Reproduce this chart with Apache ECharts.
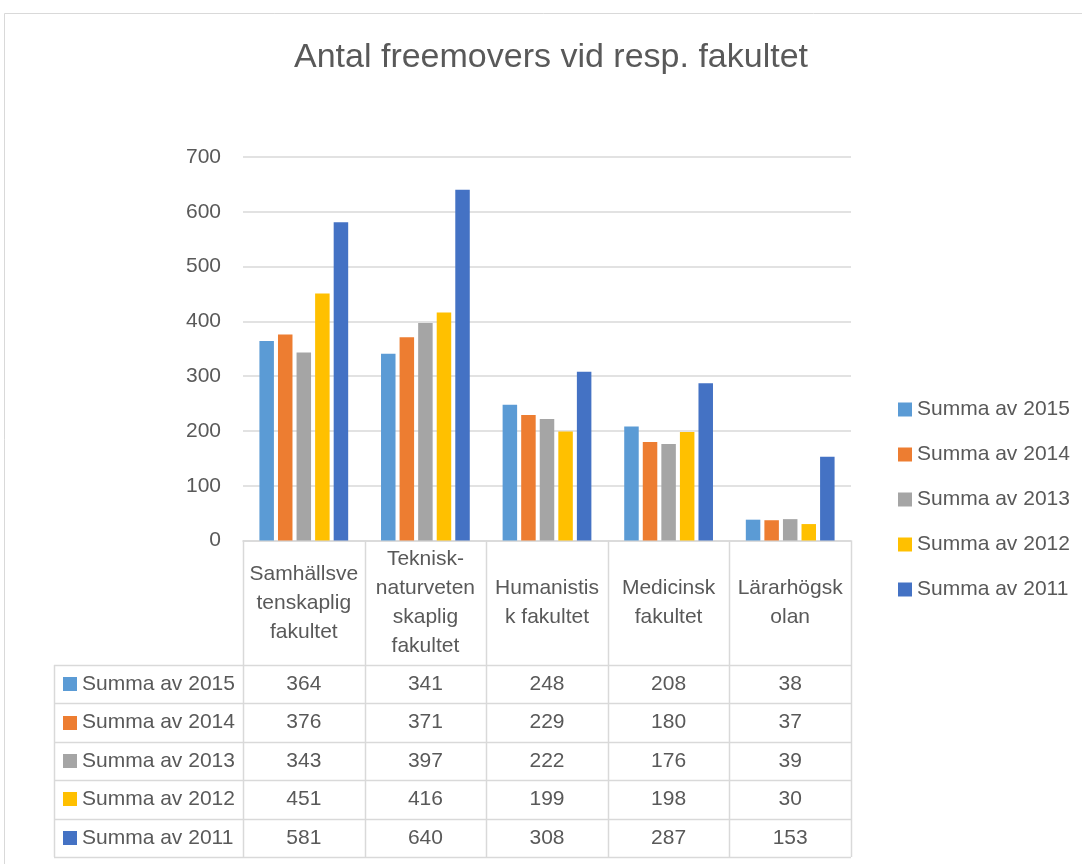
<!DOCTYPE html>
<html>
<head>
<meta charset="utf-8">
<script src="https://cdn.jsdelivr.net/npm/echarts@6/dist/echarts.min.js"></script>
<style>
  html, body { margin: 0; padding: 0; background: #fff; }
  #chart { width: 1082px; height: 864px; }
</style>
</head>
<body>
<div id="chart"></div>
<script>
// data
const categories = ['Samhällsvetenskaplig fakultet', 'Teknisk-naturvetenskaplig fakultet', 'Humanistisk fakultet', 'Medicinsk fakultet', 'Lärarhögskolan'];
const seriesNames = ['Summa av 2015', 'Summa av 2014', 'Summa av 2013', 'Summa av 2012', 'Summa av 2011'];
const v2015 = [364, 341, 248, 208, 38];
const v2014 = [376, 371, 229, 180, 37];
const v2013 = [343, 397, 222, 176, 39];
const v2012 = [451, 416, 199, 198, 30];
const v2011 = [581, 640, 308, 287, 153];
const yMin = 0, yMax = 700, yStep = 100;

const values = [v2015, v2014, v2013, v2012, v2011];
const colors = ['#5B9BD5', '#ED7D31', '#A5A5A5', '#FFC000', '#4472C4'];
const FONT = '"Liberation Sans", Arial, sans-serif';
const TXT = '#595959';
const LINE = '#d9d9d9';

// layout (pixels)
const gLeft = 243, gRight = 851, gTop = 157, gBottom = 540.5;
const tLeft = 54, tHead = 665, tEnd = 857;
const colW = (gRight - gLeft) / categories.length;
const rowH = (tEnd - tHead) / seriesNames.length;

// excel-like wrapping: at most 10 chars per line, long words cut
function wrap(s, max) {
  const tokens = s.replace(/-/g, '- ').split(' ').filter(t => t);
  const lines = [];
  let cur = '';
  tokens.forEach(tok => {
    const sep = (cur && !cur.endsWith('-')) ? ' ' : '';
    if (cur && (cur + sep + tok).length <= max) { cur = cur + sep + tok; return; }
    if (cur) lines.push(cur);
    cur = tok;
    while (cur.length > max) { lines.push(cur.slice(0, max)); cur = cur.slice(max); }
  });
  if (cur) lines.push(cur);
  return lines.join('\n');
}

const graphic = [];
// outer chart border
graphic.push({ type: 'rect', shape: { x: 4.5, y: 13.5, width: 1200, height: 1000 }, style: { fill: 'none', stroke: LINE, lineWidth: 1 }, silent: true });
// title
graphic.push({ type: 'text', x: 551, y: 58, style: { text: 'Antal freemovers vid resp. fakultet', fill: TXT, font: '34px ' + FONT, align: 'center', verticalAlign: 'middle' } });
// table horizontal lines
for (let r = 0; r <= seriesNames.length; r++) {
  const y = Math.round(tHead + r * rowH) + 0.5;
  graphic.push({ type: 'line', shape: { x1: tLeft, y1: y, x2: gRight, y2: y }, style: { stroke: LINE, lineWidth: 1.5 } });
}
// table vertical lines
graphic.push({ type: 'line', shape: { x1: tLeft + 0.5, y1: tHead, x2: tLeft + 0.5, y2: tEnd }, style: { stroke: LINE, lineWidth: 1.5 } });
for (let c = 0; c <= categories.length; c++) {
  const x = Math.round(gLeft + c * colW) + 0.5;
  graphic.push({ type: 'line', shape: { x1: x, y1: gBottom, x2: x, y2: tEnd }, style: { stroke: LINE, lineWidth: 1.5 } });
}
// table rows
seriesNames.forEach((name, r) => {
  const cy = tHead + (r + 0.5) * rowH;
  graphic.push({ type: 'rect', shape: { x: 63, y: Math.round(cy - 7), width: 14, height: 14 }, style: { fill: colors[r] } });
  graphic.push({ type: 'text', x: 82, y: cy, style: { text: name, fill: TXT, font: '21px ' + FONT, align: 'left', verticalAlign: 'middle' } });
  values[r].forEach((v, c) => {
    graphic.push({ type: 'text', x: gLeft + (c + 0.5) * colW, y: cy, style: { text: String(v), fill: TXT, font: '21px ' + FONT, align: 'center', verticalAlign: 'middle' } });
  });
});

const chart = echarts.init(document.getElementById('chart'));
chart.setOption({
  backgroundColor: '#fff',
  animation: false,
  color: colors,
  grid: { left: gLeft, right: 1082 - gRight, top: gTop, bottom: 864 - gBottom },
  legend: {
    orient: 'vertical',
    left: 893,
    top: 394,
    icon: 'rect',
    itemWidth: 14,
    itemHeight: 14,
    itemGap: 24,
    data: seriesNames,
    textStyle: { fontSize: 21, color: TXT, fontFamily: FONT }
  },
  xAxis: {
    type: 'category',
    data: categories,
    axisLine: { lineStyle: { color: LINE, width: 1.5 } },
    axisTick: { show: false },
    axisLabel: {
      interval: 0,
      margin: (tHead - gBottom) / 2,
      verticalAlign: 'middle',
      fontSize: 21,
      lineHeight: 29,
      color: TXT,
      fontFamily: FONT,
      formatter: v => wrap(v, 10)
    }
  },
  yAxis: {
    type: 'value',
    min: yMin,
    max: yMax,
    interval: yStep,
    axisLine: { show: false },
    axisTick: { show: false },
    splitLine: { lineStyle: { color: LINE, width: 1.5 } },
    axisLabel: { margin: 22, fontSize: 21, color: TXT, fontFamily: FONT }
  },
  series: seriesNames.map((name, i) => ({
    name: name,
    type: 'bar',
    data: values[i],
    barGap: '28%',
    barCategoryGap: '27%'
  })),
  graphic: graphic
});
</script>
</body>
</html>
